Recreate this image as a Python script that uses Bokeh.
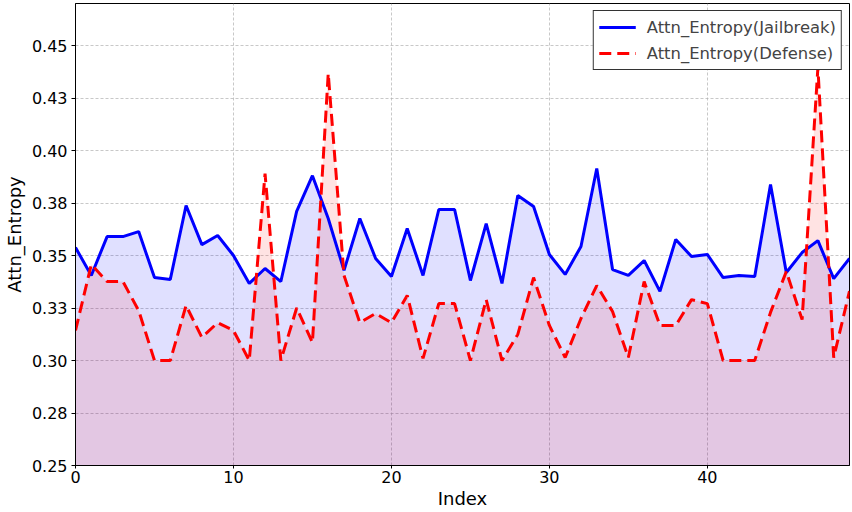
from bokeh.plotting import figure
from bokeh.models import FixedTicker, Range1d, Legend, LegendItem
from bokeh.embed import file_html
from bokeh.resources import INLINE

index = list(range(50))
jailbreak = [0.3538, 0.3405, 0.3590, 0.3590, 0.3614, 0.3395, 0.3386, 0.3738, 0.3552, 0.3595,
             0.3500, 0.3367, 0.3438, 0.3376, 0.3710, 0.3880, 0.3676, 0.3429, 0.3676, 0.3486,
             0.3400, 0.3629, 0.3405, 0.3719, 0.3719, 0.3381, 0.3652, 0.3367, 0.3786, 0.3733,
             0.3505, 0.3410, 0.3543, 0.3914, 0.3433, 0.3405, 0.3476, 0.3329, 0.3576, 0.3495,
             0.3505, 0.3395, 0.3405, 0.3400, 0.3838, 0.3419, 0.3514, 0.3571, 0.3390, 0.3486]
defense = [0.3143, 0.3457, 0.3376, 0.3376, 0.3238, 0.3000, 0.3000, 0.3262, 0.3110, 0.3180,
           0.3143, 0.3000, 0.3890, 0.3000, 0.3250, 0.3086, 0.4367, 0.3405, 0.3180, 0.3224,
           0.3180, 0.3310, 0.3010, 0.3271, 0.3271, 0.3000, 0.3290, 0.3000, 0.3124, 0.3395,
           0.3167, 0.3014, 0.3200, 0.3357, 0.3233, 0.3014, 0.3376, 0.3167, 0.3167, 0.3290,
           0.3271, 0.3000, 0.3000, 0.3000, 0.3229, 0.3424, 0.3195, 0.4395, 0.3014, 0.3330]

x_ticks = [0, 10, 20, 30, 40]
y_ticks = [0.25, 0.275, 0.30, 0.325, 0.35, 0.375, 0.40, 0.425, 0.45]
y_tick_labels = ["0.25", "0.28", "0.30", "0.33", "0.35", "0.38", "0.40", "0.43", "0.45"]

FONT = "DejaVu Sans"
y_lo, y_hi = 0.25, 0.47

p = figure(width=852, height=512, output_backend="svg", toolbar_location=None,
           x_range=Range1d(0, 49), y_range=Range1d(y_lo, y_hi),
           min_border_left=74, min_border_right=3, min_border_top=3, min_border_bottom=47)

p.varea(x=index, y1=[y_lo] * len(index), y2=jailbreak, fill_color="blue", fill_alpha=0.12)
p.varea(x=index, y1=[y_lo] * len(index), y2=defense, fill_color="red", fill_alpha=0.11)
l1 = p.line(index, jailbreak, line_color="blue", line_width=3)
l2 = p.line(index, defense, line_color="red", line_width=3, line_dash="12 6")

legend = Legend(items=[LegendItem(label="Attn_Entropy(Jailbreak)", renderers=[l1]),
                       LegendItem(label="Attn_Entropy(Defense)", renderers=[l2])],
                location="top_right")
legend.label_text_font = FONT
legend.label_text_font_size = "16.4px"
legend.glyph_width = 37
legend.glyph_height = 22
legend.label_standoff = 11
legend.spacing = 4
legend.padding = 5
legend.margin = 7
legend.border_line_color = "black"
legend.border_line_width = 1
legend.border_line_alpha = 0.8
legend.background_fill_alpha = 1.0
p.add_layout(legend)

p.xaxis.ticker = FixedTicker(ticks=x_ticks)
p.yaxis.ticker = FixedTicker(ticks=y_ticks)
p.yaxis.major_label_overrides = {t: s for t, s in zip(y_ticks, y_tick_labels)}

for ax in (p.xaxis, p.yaxis):
    ax.major_label_text_font = FONT
    ax.major_label_text_font_size = "16px"
    ax.major_label_text_color = "black"
    ax.axis_label_text_font = FONT
    ax.axis_label_text_font_size = "18px"
    ax.axis_label_text_font_style = "normal"
    ax.axis_label_text_color = "black"
    ax.axis_line_color = "black"
    ax.major_tick_line_color = "black"
    ax.major_tick_out = 4
    ax.major_tick_in = 0
    ax.minor_tick_line_color = None
p.xaxis.axis_label = "Index"
p.yaxis.axis_label = "Attn_Entropy"
p.xaxis.major_tick_out = 3
p.xaxis.major_label_standoff = 2
p.xaxis.axis_label_standoff = 2
p.yaxis.major_label_standoff = 4
p.yaxis.axis_label_standoff = 4

p.grid.grid_line_color = "#b0b0b0"
p.grid.grid_line_dash = "3 2"
p.grid.grid_line_width = 0.7
p.outline_line_color = "black"
p.outline_line_width = 1
p.outline_line_alpha = 1.0

open("out.html", "w").write(file_html(p, INLINE))
